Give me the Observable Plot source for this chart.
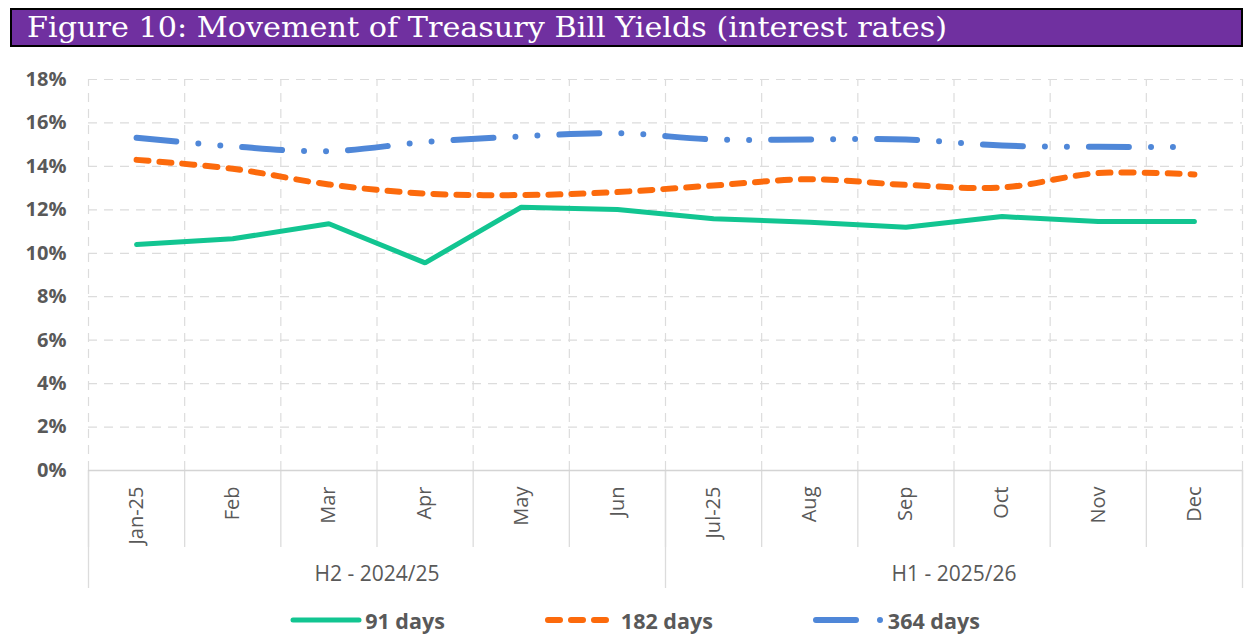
<!DOCTYPE html>
<html>
<head>
<meta charset="utf-8">
<script src="https://cdn.jsdelivr.net/npm/d3@7"></script>
<script src="https://cdn.jsdelivr.net/npm/@observablehq/plot@0.6"></script>
<style>
html, body { margin: 0; padding: 0; background: #fff; }
#wrap { position: relative; width: 1246px; height: 643px; overflow: hidden; font-family: "Open Sans", sans-serif; }
#title { position: absolute; left: 10px; top: 8px; width: 1229px; height: 35px; background: #7030A0; border: 2px solid #000; overflow: hidden; }
#title span { position: absolute; left: 15px; top: 0; line-height: 35px; color: #fff; font-family: "DejaVu Serif", serif; font-size: 27px; white-space: nowrap; transform-origin: 0 50%; }
#chart { position: absolute; left: 0; top: 50px; }
#legend { position: absolute; left: 12px; top: 605px; width: 1246px; height: 30px; display: flex; justify-content: center; align-items: center; gap: 100px; }
.item { display: flex; align-items: center; font-weight: bold; font-size: 21.5px; color: #595959; }
.item svg { display: block; }
</style>
</head>
<body>
<div id="wrap">
  <div id="title"><span id="titleText">Figure 10: Movement of Treasury Bill Yields (interest rates)</span></div>
  <div id="chart"></div>
  <div id="legend"></div>
</div>
<script>
// ---- data ----
const months = ["Jan-25", "Feb", "Mar", "Apr", "May", "Jun", "Jul-25", "Aug", "Sep", "Oct", "Nov", "Dec"];
const groupNames = ["H2 - 2024/25", "H1 - 2025/26"];
const groupSizes = [6, 6];
const yTicks = [0, 2, 4, 6, 8, 10, 12, 14, 16, 18];
const days91  = [10.40, 10.67, 11.36, 9.56, 12.12, 12.02, 11.59, 11.43, 11.20, 11.69, 11.46, 11.46];
const days182 = [14.30, 13.89, 13.17, 12.75, 12.68, 12.82, 13.12, 13.41, 13.15, 13.03, 13.69, 13.63];
const days364 = [15.32, 14.92, 14.70, 15.12, 15.38, 15.53, 15.24, 15.24, 15.24, 14.96, 14.90, 14.89];
const seriesNames = ["91 days", "182 days", "364 days"];
const seriesColors = ["#12C591", "#FC6A0C", "#4F87D8"];

// ---- title fit ----
const tt = document.getElementById("titleText");
const tw = tt.getBoundingClientRect().width;
tt.style.transform = `scaleX(${920 / tw})`;

// ---- derived positions (index space) ----
const idx = months.map((_, i) => i);
const bounds = d3.range(-0.5, months.length, 1);
const groupBounds = [-0.5];
const groupCenters = [];
let acc = -0.5;
groupSizes.forEach(n => { groupCenters.push(acc + n / 2); acc += n; groupBounds.push(acc); });

const grid = "#dcdcdc";
const chart = Plot.plot({
  width: 1246,
  height: 545,
  marginTop: 29,
  marginBottom: 125,
  marginLeft: 88,
  marginRight: 4,
  x: { type: "linear", domain: [-0.5, months.length - 0.5], axis: null },
  y: { domain: [0, 18], axis: null },
  style: { fontFamily: "'Open Sans', sans-serif", background: "transparent", overflow: "visible" },
  marks: [
    Plot.ruleY(yTicks.slice(1), { stroke: grid, strokeDasharray: "9,7", strokeWidth: 1.2 }),
    Plot.ruleX(bounds, { y1: 0, y2: 18, stroke: grid, strokeDasharray: "9,7", strokeWidth: 1.2 }),
    Plot.axisX(bounds, { tickSize: 77, tickFormat: () => "", stroke: grid, strokeWidth: 1.3, label: null }),
    Plot.axisX(groupBounds, { tickSize: 118, tickFormat: () => "", stroke: grid, strokeWidth: 1.3, label: null }),
    Plot.ruleY([0], { stroke: "#d4d4d4", strokeWidth: 1.6 }),
    Plot.axisX(idx, { tickSize: 0, tickPadding: 16, tickRotate: -90, tickFormat: i => months[i], fontSize: 20, fill: "#595959", label: null }),
    Plot.axisX(groupCenters, { tickSize: 0, tickPadding: 96, tickFormat: d => groupNames[groupCenters.indexOf(d)], fontSize: 21, fill: "#595959", label: null }),
    Plot.axisY(yTicks, { tickSize: 0, tickPadding: 22, tickFormat: d => d + "%", fontSize: 20, fontWeight: "bold", fill: "#595959", label: null }),
    Plot.lineY(days364, { stroke: seriesColors[2], strokeWidth: 6, strokeDasharray: "40,22,0,22,0,22", strokeLinecap: "round", curve: "catmull-rom" }),
    Plot.lineY(days182, { stroke: seriesColors[1], strokeWidth: 6, strokeDasharray: "12,11", strokeLinecap: "round", curve: "catmull-rom" }),
    Plot.lineY(days91, { stroke: seriesColors[0], strokeWidth: 5, strokeLinejoin: "miter" })
  ]
});
document.getElementById("chart").appendChild(chart);

// ---- legend ----
const legend = d3.select("#legend");
const swatches = [
  { w: 72, gap: 3, dash: null, sw: 5, x1: 3, x2: 69 },
  { w: 66, gap: 10, dash: "12,11", sw: 6, x1: 3, x2: 63 },
  { w: 70, gap: 5, dash: "40,24,0,100", sw: 6, x1: 3, x2: 70 }
];
seriesNames.forEach((name, k) => {
  const s = swatches[k];
  const item = legend.append("div").attr("class", "item");
  const svg = item.append("svg").attr("width", s.w).attr("height", 14).style("margin-right", s.gap + "px").style("overflow", "visible");
  svg.append("line").attr("x1", s.x1).attr("x2", s.x2).attr("y1", 7).attr("y2", 7)
    .attr("stroke", seriesColors[k]).attr("stroke-width", s.sw).attr("stroke-linecap", "round")
    .attr("stroke-dasharray", s.dash);
  item.append("span").text(name);
});
</script>
</body>
</html>
